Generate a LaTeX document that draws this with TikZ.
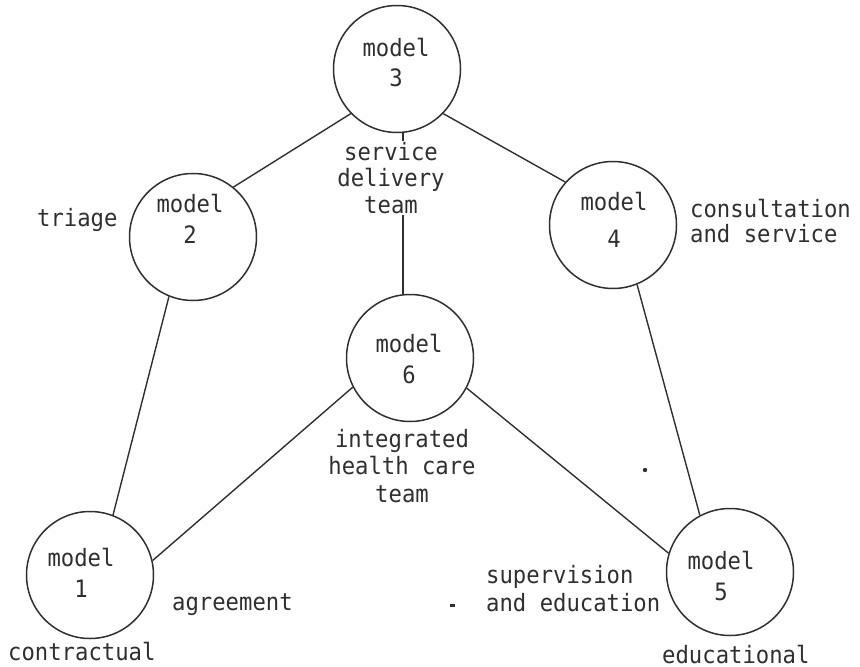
\documentclass[tikz,border=0pt]{standalone}
\usepackage{fontspec}
\newfontfamily\typewriter[FakeStretch=0.93]{DejaVu Sans Mono}
\definecolor{ink}{HTML}{2F2F2F}
\begin{document}
\begin{tikzpicture}[x=1bp,y=-1bp,
  modelc/.style={circle,draw=ink,line width=1.5bp,minimum size=127bp,inner sep=0pt},
  mtext/.style={text=ink,align=center,inner sep=0pt,anchor=base,
    font={\typewriter\fontsize{24}{31}\selectfont}},
  lbl/.style={text=ink,inner sep=1bp,
    font={\typewriter\fontsize{24}{26.5}\selectfont}},
  link/.style={draw=ink,line width=1.4bp}]
\useasboundingbox (0,0) rectangle (860,667);

% the six models
\node[modelc] (m3) at (397,69)  {};
\node[modelc] (m2) at (193,237) {};
\node[modelc] (m4) at (613,225) {};
\node[modelc] (m6) at (410,358) {};
\node[modelc] (m1) at (90,575)  {};
\node[modelc] (m5) at (730,572) {};

% captions inside the circles (anchored on the last baseline)
\node[mtext] (m3t) at (396,87)  {model\\3};
\node[mtext] (m2t) at (190,243) {model\\2};
\node[mtext] (m4t) at (614,247) {model\\[6bp]4};
\node[mtext] (m6t) at (409,383) {model\\6};
\node[mtext] (m1t) at (81,597)  {model\\1};
\node[mtext] (m5t) at (721,600) {model\\5};

% labels
\node[lbl,anchor=base west] (triage) at (36,226) {triage};
\node[lbl,anchor=base west,align=left] (cons) at (689,242)
  {consultation\\[-1.5bp]and service};
\node[lbl,anchor=base,align=center] (sdt) at (391,213)
  {service\\delivery\\team};
\node[lbl,anchor=base,align=center] (iht) at (402,502)
  {integrated\\[1bp]health care\\[1bp]team};
\node[lbl,anchor=base west] (agree) at (171,610) {agreement};
\node[lbl,anchor=base west] (contr) at (7,660) {contractual};
\node[lbl,anchor=base west,align=left] (sup) at (485,611)
  {supervision\\[1.5bp]and education};
\node[lbl,anchor=base west] (educ) at (661,663) {educational};

% connectors
\coordinate (axis) at (403,0);
\draw[link] (m3.south -| axis) -- (sdt.north -| axis);
\draw[link] (sdt.south -| axis) -- (m6.north -| axis);
\draw[link] (m3.224) -- (m2.51);
\draw[link] (m3.316) -- (m4.138);
\draw[link] (m2.248) -- (m1.69);
\draw[link] (m1.13)  -- (m6.207);
\draw[link] (m6.332) -- (m5.163);
\draw[link] (m4.292) -- (m5.118);

% stray typewriter marks
\fill[ink] (645,470) circle (2.2bp);
\fill[ink] (450,604) rectangle (455,606.5);
\end{tikzpicture}
\end{document}
